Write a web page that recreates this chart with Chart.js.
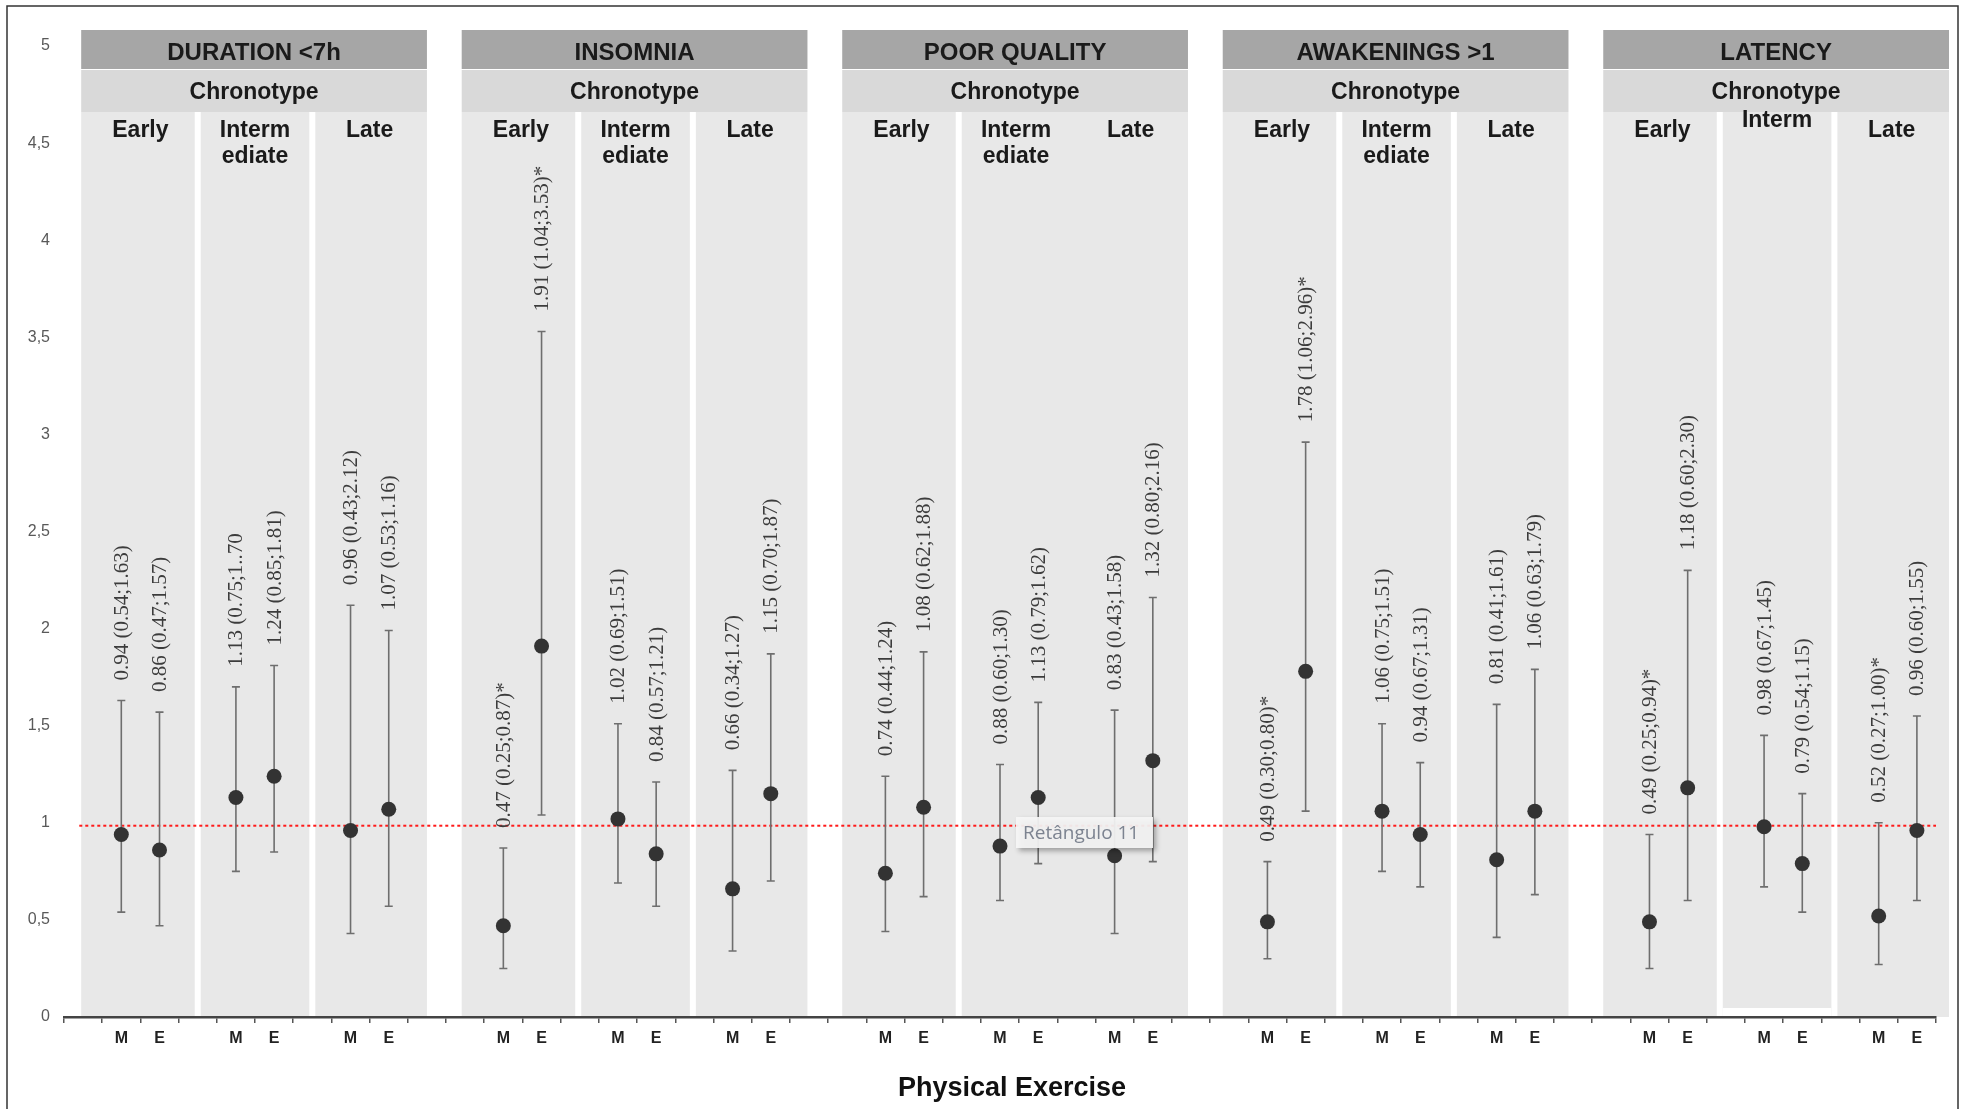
<!DOCTYPE html>
<html>
<head>
<meta charset="utf-8">
<script src="https://cdn.jsdelivr.net/npm/chart.js@4.4.1/dist/chart.umd.min.js"></script>
<style>
  html, body { margin: 0; padding: 0; background: #fff; }
  #wrap { width: 1963px; height: 1109px; position: relative; }
</style>
</head>
<body>
<div id="wrap"><canvas id="chart"></canvas></div>
<script>
// outcomes (one panel each), chronotype columns, physical exercise groups
const outcomes = ["DURATION <7h", "INSOMNIA", "POOR QUALITY", "AWAKENINGS >1", "LATENCY"];
const groupTitle = "Chronotype";
const chronotypeLabels = [
  ["Early", "Interm\nediate", "Late"],
  ["Early", "Interm\nediate", "Late"],
  ["Early", "Interm\nediate", "Late"],
  ["Early", "Interm\nediate", "Late"],
  ["Early", "Interm", "Late"],
];
const exposures = ["M", "E"];
const xAxisTitle = "Physical Exercise";
const noteText = "Retângulo 11";
const refValue = 0.985;

// order in each row: Early M, Early E, Interm M, Interm E, Late M, Late E
const oddsRatio = [
  [0.94, 0.86, 1.13, 1.24, 0.96, 1.07],
  [0.47, 1.91, 1.02, 0.84, 0.66, 1.15],
  [0.74, 1.08, 0.88, 1.13, 0.83, 1.32],
  [0.49, 1.78, 1.06, 0.94, 0.81, 1.06],
  [0.49, 1.18, 0.98, 0.79, 0.52, 0.96],
];
const lowerCI = [
  [0.54, 0.47, 0.75, 0.85, 0.43, 0.57],
  [0.25, 1.04, 0.69, 0.57, 0.34, 0.70],
  [0.44, 0.62, 0.60, 0.79, 0.43, 0.80],
  [0.30, 1.06, 0.75, 0.67, 0.41, 0.63],
  [0.25, 0.60, 0.67, 0.54, 0.27, 0.60],
];
const upperCI = [
  [1.63, 1.57, 1.70, 1.81, 2.12, 1.99],
  [0.87, 3.53, 1.51, 1.21, 1.27, 1.87],
  [1.24, 1.88, 1.30, 1.62, 1.58, 2.16],
  [0.80, 2.96, 1.51, 1.31, 1.61, 1.79],
  [0.94, 2.30, 1.45, 1.15, 1.00, 1.55],
];
const ciText = [
  ["0.94 (0.54;1.63)", "0.86 (0.47;1.57)", "1.13 (0.75;1..70", "1.24 (0.85;1.81)", "0.96 (0.43;2.12)", "1.07 (0.53;1.16)"],
  ["0.47 (0.25;0.87)*", "1.91 (1.04;3.53)*", "1.02 (0.69;1.51)", "0.84 (0.57;1.21)", "0.66 (0.34;1.27)", "1.15 (0.70;1.87)"],
  ["0.74 (0.44;1.24)", "1.08 (0.62;1.88)", "0.88 (0.60;1.30)", "1.13 (0.79;1.62)", "0.83 (0.43;1.58)", "1.32 (0.80;2.16)"],
  ["0.49 (0.30;0.80)*", "1.78 (1.06;2.96)*", "1.06 (0.75;1.51)", "0.94 (0.67;1.31)", "0.81 (0.41;1.61)", "1.06 (0.63;1.79)"],
  ["0.49 (0.25;0.94)*", "1.18 (0.60;2.30)", "0.98 (0.67;1.45)", "0.79 (0.54;1.15)", "0.52 (0.27;1.00)*", "0.96 (0.60;1.55)"],
];

// x position: 10 slots per panel, 3 per chronotype column, M/E in the middle
function slotX(p, k) {
  const c = Math.floor(k / 2);
  const e = k % 2;
  return p * 10 + c * 3 + e + 1;
}

const points = [];
oddsRatio.forEach((row, p) => {
  row.forEach((v, k) => {
    points.push({ x: slotX(p, k), y: v, lo: lowerCI[p][k], hi: upperCI[p][k], txt: ciText[p][k] });
  });
});

const SANS = "'Liberation Sans', Arial, sans-serif";
const mergedCols = { 2: true }; // POOR QUALITY: no divider between Interm and Late

const decor = {
  id: "decor",
  beforeDraw(chart) {
    const { ctx, scales: { x, y } } = chart;
    const base = y.getPixelForValue(0);
    ctx.save();
    outcomes.forEach((name, p) => {
      // the grey panels drift slightly left of the point grid in the original
      const o = p * 10 - 0.04 * p;
      const left = x.getPixelForValue(o - 0.05);
      const right = x.getPixelForValue(o + 9);
      const w = right - left;
      // header bands
      ctx.fillStyle = "#a6a6a6";
      ctx.fillRect(left, 30, w, 39);
      ctx.fillStyle = "#d9d9d9";
      ctx.fillRect(left, 70, w, 42);
      // columns
      ctx.fillStyle = "#e8e8e8";
      ctx.fillRect(left, 112, w, base - 112);
      ctx.fillStyle = "#ffffff";
      [1, 2].forEach((c) => {
        if (c === 2 && mergedCols[p]) return;
        const sx = x.getPixelForValue(o + c * 3);
        ctx.fillRect(sx - 3, 112, 6, base - 112);
      });
      // LATENCY / Interm column stops a little above the axis
      if (p === 4) {
        const a = x.getPixelForValue(o + 3), b = x.getPixelForValue(o + 6);
        ctx.fillRect(a + 3, base - 9, b - a - 6, 9);
      }

      const cx = (left + right) / 2;
      ctx.fillStyle = "#1a1a1a";
      ctx.textAlign = "center";
      ctx.textBaseline = "middle";
      ctx.font = "bold 24px " + SANS;
      ctx.fillText(name, cx, 53);
      ctx.font = "bold 23px " + SANS;
      ctx.fillText(groupTitle, cx, 93);

      ctx.font = "bold 23px " + SANS;
      chronotypeLabels[p].forEach((lab, c) => {
        const colX = x.getPixelForValue(o + c * 3 + 1.5);
        const lines = lab.split("\n");
        const top = p === 4 && lines.length === 1 && c === 1 ? 121 : 131;
        lines.forEach((line, i) => {
          ctx.fillText(line, colX, top + i * 26);
        });
      });
    });
    ctx.restore();
  },
  beforeDatasetsDraw(chart) {
    const { ctx, scales: { x, y } } = chart;
    ctx.save();
    // reference line
    ctx.strokeStyle = "#ff1a1a";
    ctx.lineWidth = 2;
    ctx.setLineDash([3, 3]);
    const ry = y.getPixelForValue(refValue);
    ctx.beginPath();
    ctx.moveTo(x.getPixelForValue(-0.1), ry);
    ctx.lineTo(x.right, ry);
    ctx.stroke();
    ctx.setLineDash([]);

    // confidence intervals
    ctx.strokeStyle = "#6e6e6e";
    ctx.lineWidth = 1.6;
    points.forEach((pt) => {
      const px = x.getPixelForValue(pt.x);
      const yl = y.getPixelForValue(pt.lo);
      const yh = y.getPixelForValue(pt.hi);
      ctx.beginPath();
      ctx.moveTo(px, yl);
      ctx.lineTo(px, yh);
      ctx.moveTo(px - 4, yl);
      ctx.lineTo(px + 4, yl);
      ctx.moveTo(px - 4, yh);
      ctx.lineTo(px + 4, yh);
      ctx.stroke();
    });
    ctx.restore();
  },
  afterDatasetsDraw(chart) {
    const { ctx, scales: { x, y } } = chart;
    ctx.save();
    ctx.fillStyle = "#3c3c3c";
    ctx.font = "21px 'Liberation Serif', 'Times New Roman', serif";
    ctx.textAlign = "left";
    ctx.textBaseline = "middle";
    points.forEach((pt) => {
      const px = x.getPixelForValue(pt.x);
      const yh = y.getPixelForValue(pt.hi);
      ctx.save();
      ctx.translate(px, yh - 20);
      ctx.rotate(-Math.PI / 2);
      ctx.fillText(pt.txt, 0, 1);
      ctx.restore();
    });
    ctx.restore();
  },
  afterDraw(chart) {
    const { ctx, scales: { x, y } } = chart;
    const base = y.getPixelForValue(0);
    ctx.save();
    // M / E labels
    ctx.fillStyle = "#222";
    ctx.font = "bold 16px " + SANS;
    ctx.textAlign = "center";
    ctx.textBaseline = "middle";
    outcomes.forEach((_, p) => {
      for (let k = 0; k < 6; k++) {
        ctx.fillText(exposures[k % 2], x.getPixelForValue(slotX(p, k)), base + 22);
      }
    });
    // axis title
    ctx.font = "bold 27px " + SANS;
    ctx.fillStyle = "#111";
    ctx.fillText(xAxisTitle, (x.left + x.right) / 2 + 12, base + 72);

    // floating note box
    const bx = 1016, by = 817, bw = 137, bh = 31;
    ctx.save();
    ctx.shadowColor = "rgba(0,0,0,0.35)";
    ctx.shadowBlur = 5;
    ctx.shadowOffsetX = 3;
    ctx.shadowOffsetY = 3;
    ctx.fillStyle = "rgba(246,246,246,0.92)";
    ctx.fillRect(bx, by, bw, bh);
    ctx.restore();
    ctx.fillStyle = "#7c8390";
    ctx.font = "19px 'Open Sans', sans-serif";
    ctx.textAlign = "left";
    ctx.fillText(noteText, bx + 7, by + bh / 2 + 1);

    // frame
    ctx.strokeStyle = "#333";
    ctx.lineWidth = 1.5;
    ctx.beginPath();
    ctx.moveTo(7, 1109);
    ctx.lineTo(7, 6);
    ctx.lineTo(1958, 6);
    ctx.lineTo(1958, 1109);
    ctx.stroke();
    ctx.restore();
  },
};

const halfTicks = [];
for (let i = 0; i <= 49; i++) halfTicks.push(i - 0.5);

new Chart(document.getElementById("chart"), {
  type: "scatter",
  data: {
    datasets: [
      {
        data: points,
        pointRadius: 7.5,
        pointHoverRadius: 7.5,
        backgroundColor: "#333333",
        borderWidth: 0,
      },
    ],
  },
  options: {
    responsive: true,
    maintainAspectRatio: false,
    animation: false,
    events: [],
    layout: { padding: { top: 46, right: 27, left: 0, bottom: 0 } },
    plugins: { legend: { display: false }, tooltip: { enabled: false } },
    scales: {
      x: {
        type: "linear",
        min: -0.5,
        max: 48.5,
        afterBuildTicks: (scale) => {
          scale.ticks = halfTicks.map((v) => ({ value: v }));
        },
        afterFit: (scale) => {
          scale.height = 92;
        },
        ticks: { autoSkip: false, callback: () => "" },
        grid: { drawOnChartArea: false, drawTicks: true, tickLength: 6, color: "#555", lineWidth: 1.5 },
        border: { display: true, color: "#444", width: 2.5 },
      },
      y: {
        min: 0,
        max: 5,
        afterFit: (scale) => {
          scale.width = 64;
        },
        ticks: {
          stepSize: 0.5,
          padding: 14,
          color: "#595959",
          font: { size: 16, family: SANS },
          callback: (v) => String(v).replace(".", ","),
        },
        grid: { display: false, drawTicks: false },
        border: { display: false },
      },
    },
  },
  plugins: [decor],
});
</script>
</body>
</html>
